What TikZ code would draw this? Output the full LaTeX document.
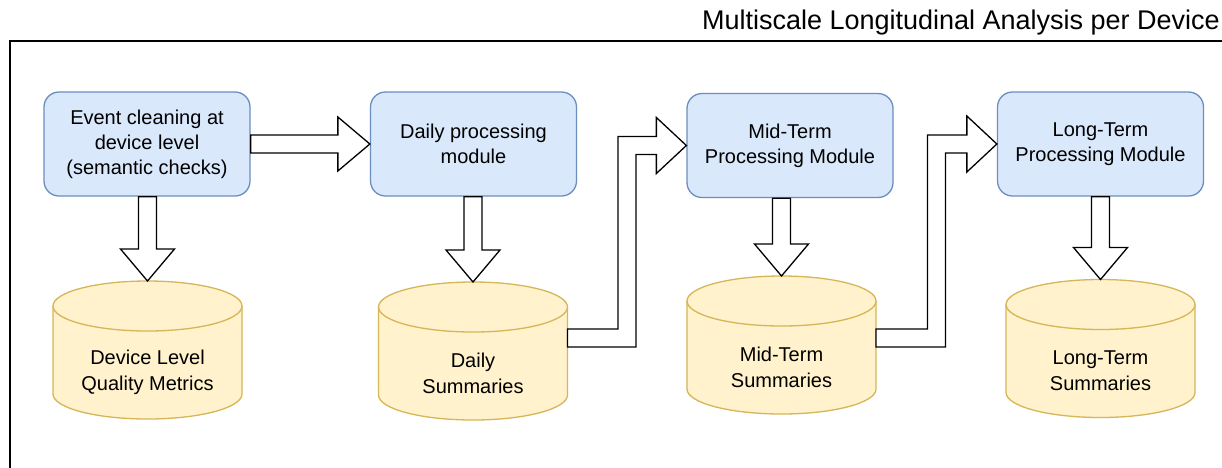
\documentclass[tikz,border=0pt]{standalone}
\usepackage{fontspec}
\setmainfont{Liberation Sans}
\usetikzlibrary{calc,backgrounds}

\definecolor{boxfill}{HTML}{DAE8FC}
\definecolor{boxline}{HTML}{6C8EBF}
\definecolor{cylfill}{HTML}{FFF2CC}
\definecolor{cylline}{HTML}{D6B656}

\tikzset{
  module/.style={rectangle, rounded corners=15pt, fill=boxfill, draw=boxline,
    line width=1.3pt, minimum width=206pt, minimum height=104pt, align=center,
    font=\fontsize{20}{25}\selectfont, inner sep=0pt},
  store/.style={rectangle, minimum width=189pt, minimum height=138pt,
    inner sep=0pt, outer sep=0pt},
  storetext/.style={align=center, font=\fontsize{20}{26}\selectfont, inner sep=0pt},
  storebody/.style={fill=cylfill, draw=cylline, line width=1.3pt},
  fat/.style={fill=white, draw=black, line width=1.3pt, line join=miter},
}

% cylinder outline behind a store node
\newcommand\cylshape[1]{%
  \begin{scope}[on background layer]
    \path[storebody] ([yshift=-25pt]#1.north west) -- ([yshift=25pt]#1.south west)
      arc[start angle=180,end angle=360,x radius=94.5pt,y radius=25pt]
      -- ([yshift=-25pt]#1.north east)
      arc[start angle=0,end angle=180,x radius=94.5pt,y radius=25pt] -- cycle;
    \draw[storebody, fill=none] ([yshift=-25pt]#1.north west)
      arc[start angle=180,end angle=360,x radius=94.5pt,y radius=25pt];
  \end{scope}}

% hollow block arrows
\newcommand\fatdown[2]{%
  \draw[fat] let \p1=(#1), \p2=(#2) in
    (\x2-9pt,\y1) -- (\x2-9pt,\y2+32pt) -- (\x2-27pt,\y2+32pt) -- (\x2,\y2)
    -- (\x2+27pt,\y2+32pt) -- (\x2+9pt,\y2+32pt) -- (\x2+9pt,\y1) -- cycle;}
\newcommand\fatright[2]{%
  \draw[fat] let \p1=(#1), \p2=(#2) in
    (\x1,\y2+9pt) -- (\x2-32pt,\y2+9pt) -- (\x2-32pt,\y2+27pt) -- (\x2,\y2)
    -- (\x2-32pt,\y2-27pt) -- (\x2-32pt,\y2-9pt) -- (\x1,\y2-9pt) -- cycle;}
\newcommand\fatelbow[2]{%
  \draw[fat] let \p1=(#1), \p2=(#2), \p3=($(#1)!0.5!(#2)$) in
    (\x1,\y1+9pt) -- (\x3-9pt,\y1+9pt) -- (\x3-9pt,\y2+9pt) -- (\x2-30pt,\y2+9pt)
    -- (\x2-30pt,\y2+28pt) -- (\x2,\y2) -- (\x2-30pt,\y2-28pt) -- (\x2-30pt,\y2-9pt)
    -- (\x3+9pt,\y2-9pt) -- (\x3+9pt,\y1-9pt) -- (\x1,\y1-9pt) -- cycle;}

\begin{document}
\begin{tikzpicture}[x=1pt, y=-1pt]
  \useasboundingbox (0,0) rectangle (1222,467);
  \begin{scope}[on background layer]
    \fill[white] (0,0) rectangle (1222,467);
  \end{scope}

  % frame and title
  \begin{scope}
    \clip (0,0) rectangle (1222,467);
    \draw[line width=2pt] (10,470) -- (10,41) -- (1225,41);
  \end{scope}
  \node[anchor=base east, font=\fontsize{27}{32}\selectfont, inner sep=0pt]
    (title) at (1220,29) {Multiscale Longitudinal Analysis per Device};

  % processing modules
  \node[module] (b1) at (147,144)    {Event cleaning at\\device level\\(semantic checks)};
  \node[module] (b2) at (473.5,144)  {Daily processing\\module};
  \node[module] (b3) at (790,145.5)  {Mid-Term\\Processing Module};
  \node[module] (b4) at (1100.5,144) {Long-Term\\Processing Module};

  % data stores
  \node[store] (c1) at (147.5,350)  {};
  \node[store] (c2) at (473,351)    {};
  \node[store] (c3) at (781.5,345)  {};
  \node[store] (c4) at (1100.5,348.5) {};
  \cylshape{c1}\cylshape{c2}\cylshape{c3}\cylshape{c4}
  \node[storetext] (t1) at ([yshift=-22pt]c1.center) {Device Level\\Quality Metrics};
  \node[storetext] (t2) at ([yshift=-22pt]c2.center) {Daily\\Summaries};
  \node[storetext] (t3) at ([yshift=-22pt]c3.center) {Mid-Term\\Summaries};
  \node[storetext] (t4) at ([yshift=-22pt]c4.center) {Long-Term\\Summaries};

  % connectors
  \coordinate (e2) at ([yshift=13pt]c2.east);
  \coordinate (e3) at ([yshift=7pt]c3.east);
  \fatright{b1.east}{b2.west}
  \fatdown{b1.south}{c1.north}
  \fatdown{b2.south}{c2.north}
  \fatdown{b3.south}{c3.north}
  \fatdown{b4.south}{c4.north}
  \fatelbow{e2}{b3.west}
  \fatelbow{e3}{b4.west}
\end{tikzpicture}
\end{document}
